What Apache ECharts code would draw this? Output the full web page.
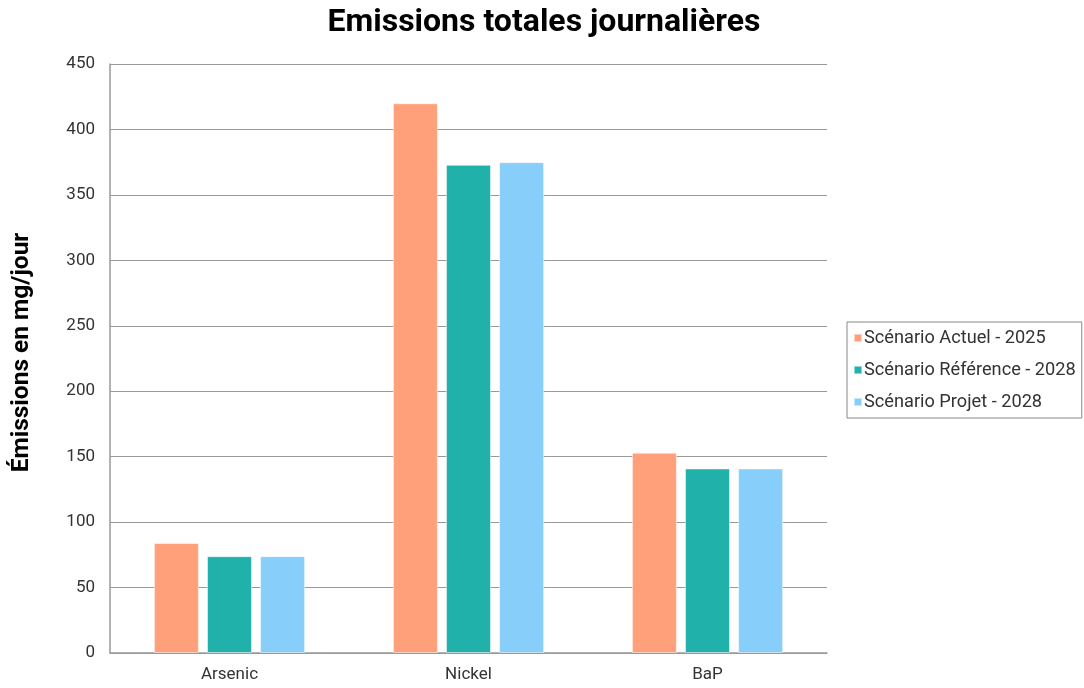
<!DOCTYPE html>
<html>
<head>
<meta charset="utf-8">
<script src="https://cdn.jsdelivr.net/npm/echarts@6/dist/echarts.min.js"></script>
<style>
  html, body { margin: 0; padding: 0; background: #fff; }
  #chart { width: 1084px; height: 688px; }
</style>
</head>
<body>
<div id="chart"></div>
<script>
// données
var categories = ['Arsenic', 'Nickel', 'BaP'];
var actuel2025 = [84, 420, 153];
var reference2028 = [74, 373, 141];
var projet2028 = [74, 375, 141];
var seriesNames = ['Scénario Actuel - 2025', 'Scénario Référence - 2028', 'Scénario Projet - 2028'];
var colors = ['#FFA07A', '#20B2AA', '#87CEFA'];

var chart = echarts.init(document.getElementById('chart'));

function barSerie(name, data, color) {
    return {
        name: name,
        type: 'bar',
        data: data,
        barWidth: 45,
        barGap: '18%',
        itemStyle: {
            color: color,
            borderColor: 'rgba(255,255,255,0.5)',
            borderWidth: 1
        }
    };
}

var option = {
    textStyle: { fontFamily: 'Roboto' },
    title: {
        text: 'Emissions totales journalières',
        left: 539,
        textAlign: 'center',
        top: 2,
        textStyle: { fontSize: 32, fontWeight: 'bold', color: '#000', fontFamily: 'Roboto' }
    },
    legend: {
        orient: 'vertical',
        left: 847,
        top: 322,
        width: 236,
        padding: [7, 6, 7, 6],
        itemWidth: 8,
        itemHeight: 8,
        itemGap: 14,
        icon: 'rect',
        borderColor: '#888',
        borderWidth: 1,
        borderRadius: 0,
        textStyle: { fontSize: 18.2, color: '#333', fontFamily: 'Roboto', padding: [0, 0, 0, -3] },
        data: seriesNames
    },
    grid: {
        left: 110,
        right: 257,
        top: 64,
        bottom: 35
    },
    xAxis: {
        type: 'category',
        data: categories,
        axisLine: { lineStyle: { color: '#999', width: 1.5 } },
        axisTick: { show: false },
        axisLabel: { fontSize: 17, color: '#333', margin: 13 }
    },
    yAxis: {
        type: 'value',
        min: 0,
        max: 450,
        interval: 50,
        name: 'Émissions en mg/jour',
        nameLocation: 'middle',
        nameGap: 76,
        nameTextStyle: { fontSize: 24.5, fontWeight: 'bold', color: '#000', padding: [0, 0, 0, 12] },
        axisLine: { show: true, lineStyle: { color: '#999', width: 1.5 } },
        axisTick: { show: false },
        axisLabel: { fontSize: 17, color: '#333', margin: 15 },
        splitLine: { lineStyle: { color: '#999', width: 1.2 } }
    },
    series: [
        barSerie(seriesNames[0], actuel2025, colors[0]),
        barSerie(seriesNames[1], reference2028, colors[1]),
        barSerie(seriesNames[2], projet2028, colors[2])
    ]
};
chart.setOption(option);
</script>
</body>
</html>
